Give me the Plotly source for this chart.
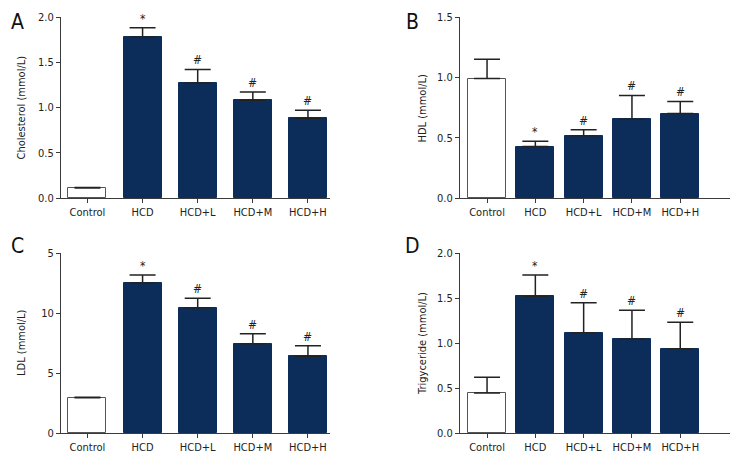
import plotly.graph_objects as go

categories = ["Control", "HCD", "HCD+L", "HCD+M", "HCD+H"]

chol_mean = [0.11, 1.78, 1.27, 1.08, 0.88]
chol_err = [0.005, 0.10, 0.15, 0.09, 0.09]

hdl_mean = [0.99, 0.426, 0.515, 0.653, 0.70]
hdl_err = [0.16, 0.045, 0.05, 0.197, 0.10]

ldl_mean = [2.94, 12.5, 10.44, 7.44, 6.39]
ldl_err = [0.03, 0.67, 0.78, 0.84, 0.89]

tg_mean = [0.444, 1.52, 1.115, 1.044, 0.937]
tg_err = [0.176, 0.235, 0.333, 0.319, 0.293]

marks = ["", "*", "#", "#", "#"]

panel_letters = ["A", "B", "C", "D"]
y_titles = ["Cholesterol (mmol/L)", "HDL (mmol/L)", "LDL (mmol/L)", "Trigyceride (mmol/L)"]

y_ticks_A = [0, 0.5, 1.0, 1.5, 2.0]
y_ticktext_A = ["0.0", "0.5", "1.0", "1.5", "2.0"]
y_ticks_B = [0, 0.5, 1.0, 1.5]
y_ticktext_B = ["0.0", "0.5", "1.0", "1.5"]
y_ticks_C = [0, 5, 10, 15]
y_ticktext_C = ["0", "5", "10", "5"]
y_ticks_D = [0, 0.5, 1.0, 1.5, 2.0]
y_ticktext_D = ["0.0", "0.5", "1.0", "1.5", "2.0"]

FONT = "DejaVu Sans Condensed, Roboto, sans-serif"
NAVY = "#0c2d5a"
AX = "#3a3a3a"
TXT = "#222222"

W, H = 744, 468
OFF = 8  # page body margin


def px_x(s):
    return (s - OFF) / W


def px_y(s):
    return 1 - (s - OFF) / H


fig = go.Figure()

panels = [
    dict(mean=chol_mean, err=chol_err, xd=[px_x(61), px_x(330)], yd=[px_y(198), px_y(17)],
         xr=[-0.48, 4.40], yr=[0, 2.0], tv=y_ticks_A, tt=y_ticktext_A, bw=0.69,
         tx=21, lx=17, ly=8),
    dict(mean=hdl_mean, err=hdl_err, xd=[px_x(460), px_x(730)], yd=[px_y(198), px_y(17)],
         xr=[-0.56, 5.03], yr=[0, 1.5], tv=y_ticks_B, tt=y_ticktext_B, bw=0.79,
         tx=422, lx=413, ly=8),
    dict(mean=ldl_mean, err=ldl_err, xd=[px_x(61), px_x(330)], yd=[px_y(433), px_y(253)],
         xr=[-0.48, 4.40], yr=[0, 15], tv=y_ticks_C, tt=y_ticktext_C, bw=0.69,
         tx=21, lx=17, ly=232),
    dict(mean=tg_mean, err=tg_err, xd=[px_x(460), px_x(730)], yd=[px_y(433), px_y(253)],
         xr=[-0.56, 5.03], yr=[0, 2.0], tv=y_ticks_D, tt=y_ticktext_D, bw=0.79,
         tx=422, lx=413, ly=232),
]

annotations = []
for i, p in enumerate(panels):
    n = i + 1
    xa = "x" if n == 1 else f"x{n}"
    ya = "y" if n == 1 else f"y{n}"
    colors = ["white"] + [NAVY] * 4
    lcolors = ["#555555"] + [NAVY] * 4
    fig.add_trace(go.Bar(
        x=list(range(len(categories))), y=p["mean"], width=p["bw"],
        marker=dict(color=colors, line=dict(color=lcolors, width=1)),
        error_y=dict(type="data", array=p["err"], arrayminus=[0]*5, symmetric=False,
                     color="#222222", thickness=1.5, width=13),
        xaxis=xa, yaxis=ya, showlegend=False, hoverinfo="skip",
    ))
    fig.layout[f"xaxis{'' if n == 1 else n}"] = dict(
        domain=p["xd"], range=p["xr"], anchor=ya, tickmode="array",
        tickvals=list(range(len(categories))), ticktext=categories,
        showline=True, linecolor=AX, linewidth=1, ticks="outside", ticklen=4,
        tickcolor=AX, showgrid=False, zeroline=False, fixedrange=True, automargin=False,
        tickfont=dict(family=FONT, size=11, color=TXT))
    fig.layout[f"yaxis{'' if n == 1 else n}"] = dict(
        domain=p["yd"], range=p["yr"], anchor=xa, tickmode="array",
        tickvals=p["tv"], ticktext=p["tt"],
        showline=True, linecolor=AX, linewidth=1, ticks="outside", ticklen=4,
        tickcolor=AX, showgrid=False, zeroline=False, fixedrange=True, automargin=False,
        tickfont=dict(family=FONT, size=11, color=TXT))
    for j, m in enumerate(marks):
        if m:
            annotations.append(dict(
                x=j, y=p["mean"][j] + p["err"][j], xref=xa, yref=ya,
                text=m, showarrow=False, yanchor="bottom", yshift=0,
                font=dict(family=FONT, size=12, color=TXT)))
    ymid = (p["yd"][0] + p["yd"][1]) / 2
    annotations.append(dict(
        x=px_x(p["tx"]), y=ymid, xref="paper", yref="paper", text=y_titles[i],
        textangle=-90, showarrow=False, xanchor="center", yanchor="middle",
        font=dict(family=FONT, size=11, color=TXT)))
    annotations.append(dict(
        x=px_x(p["lx"]), y=px_y(p["ly"]), xref="paper", yref="paper",
        text=panel_letters[i], showarrow=False, xanchor="center", yanchor="top",
        font=dict(family=FONT, size=21, color="#111111")))

fig.update_layout(
    template="none",
    width=W, height=H, margin=dict(l=0, r=0, t=0, b=0, autoexpand=False),
    paper_bgcolor="white", plot_bgcolor="white",
    annotations=annotations, bargap=0,
)

fig.write_html("out.html")
